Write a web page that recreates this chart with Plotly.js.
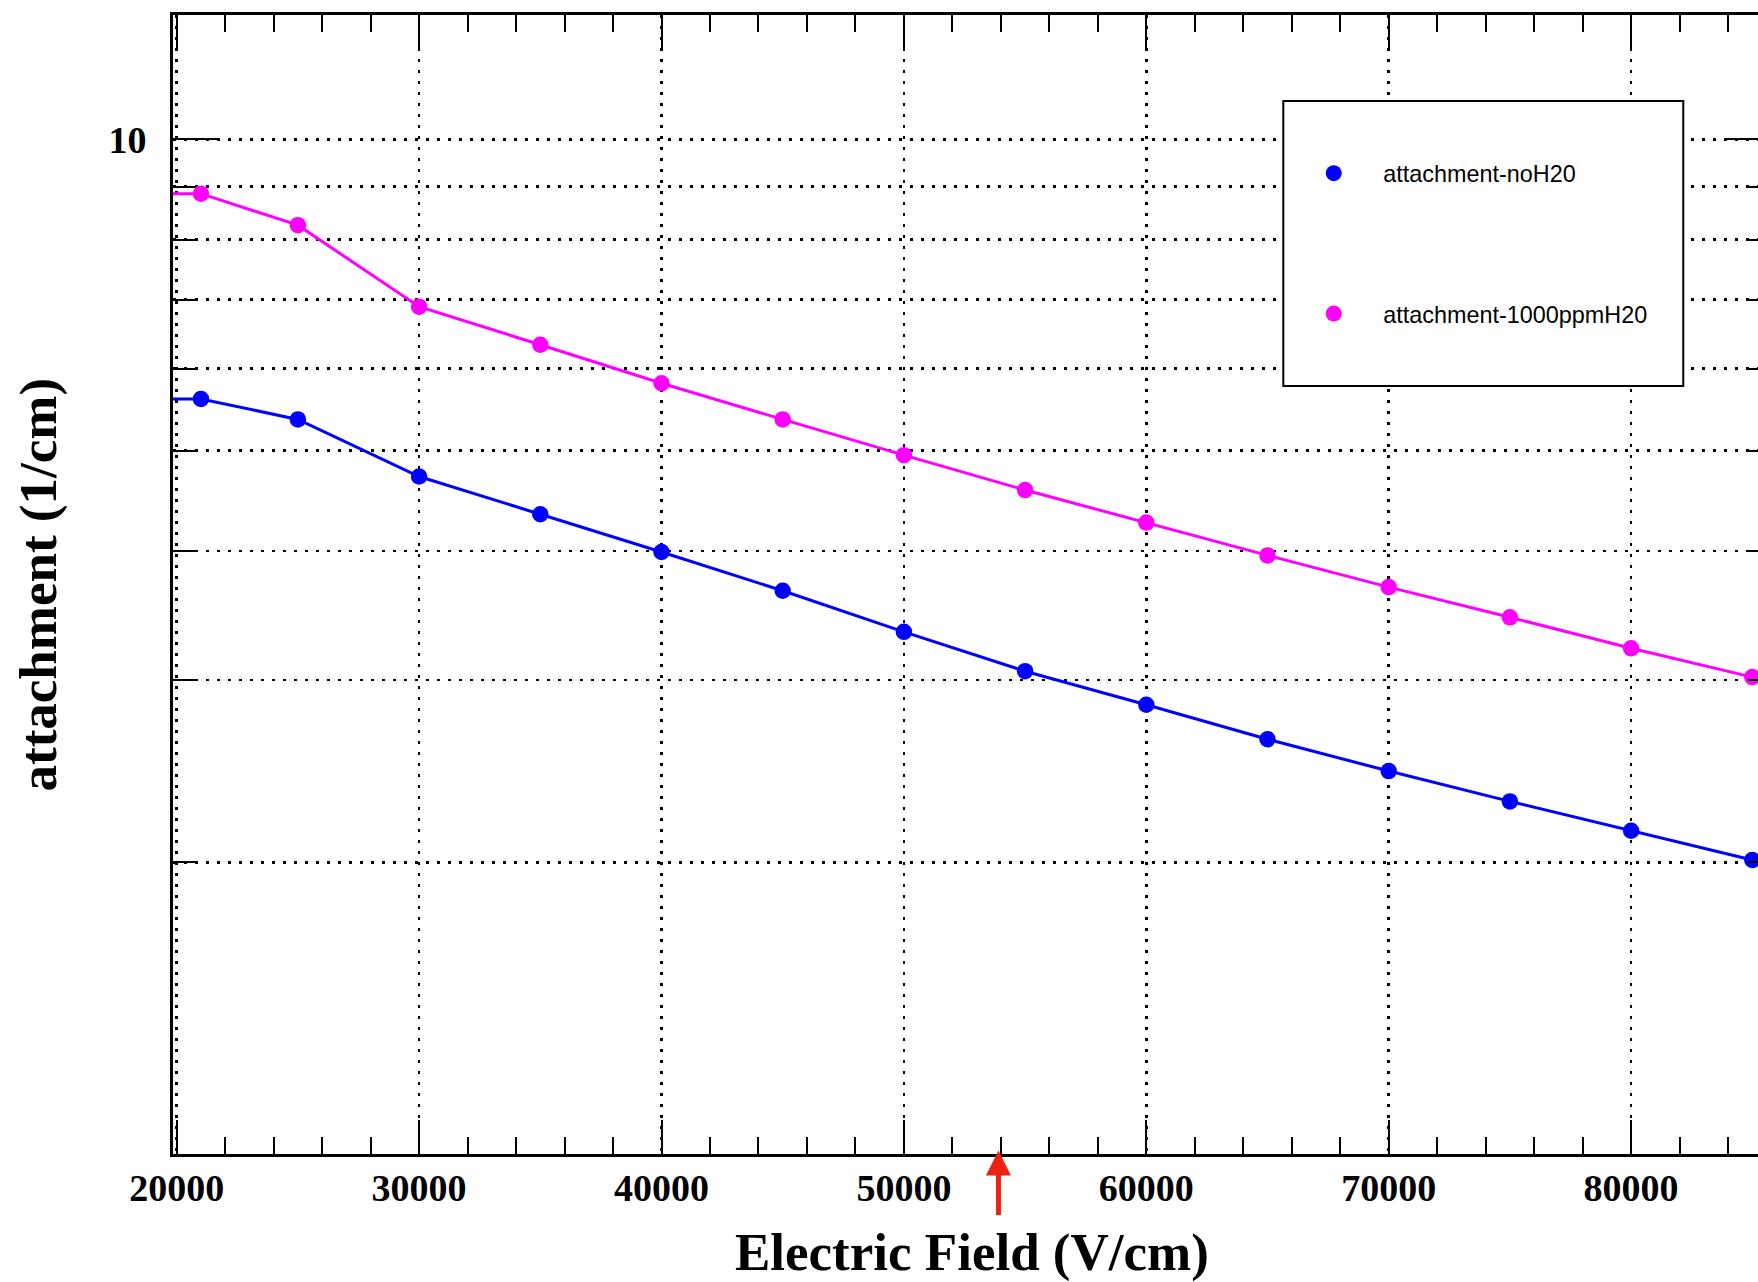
<!DOCTYPE html>
<html>
<head>
<meta charset="utf-8">
<script src="https://cdn.plot.ly/plotly-3.0.1.min.js"></script>
<style>
  html, body { margin: 0; padding: 0; background: #ffffff; overflow: hidden; }
  #plot { width: 1900px; height: 1282px; }
</style>
</head>
<body>
<div id="plot"></div>
<script>
// Electric field values (V/cm); the first entry sits left of the visible range
const field = [15000, 21000, 25000, 30000, 35000, 40000, 45000, 50000, 55000,
               60000, 65000, 70000, 75000, 80000, 85000];
// Attachment coefficient (1/cm), dry gas
const attachNoH2O = [5.61, 5.61, 5.36, 4.72, 4.34, 3.99, 3.66, 3.34, 3.06,
                     2.84, 2.63, 2.45, 2.29, 2.145, 2.01];
// Attachment coefficient (1/cm), 1000 ppm water
const attach1000ppm = [8.86, 8.86, 8.26, 6.89, 6.33, 5.81, 5.36, 4.95, 4.58,
                       4.26, 3.96, 3.69, 3.45, 3.22, 3.02];
const seriesNames = ['attachment-noH20', 'attachment-1000ppmH20'];
const seriesColors = ['#0000ff', '#ff00ff'];
// Operating field marked below the axis
const markedField = 53900;

const yTickVals = [10];
const yTickText = ['10'];
const yMinorVals = [2, 3, 4, 5, 6, 7, 8, 9];

const serif = 'Liberation Serif, Times New Roman, serif';
const sans = 'Liberation Sans, Arial, Helvetica, sans-serif';
const gridDash = '3px,8px';

const seriesY = [attachNoH2O, attach1000ppm];
const traces = [];
seriesY.forEach((ys, i) => {
  traces.push({
    x: field, y: ys, type: 'scatter', mode: 'lines',
    line: { color: seriesColors[i], width: 3 },
    showlegend: false, hoverinfo: 'skip'
  });
});
seriesY.forEach((ys, i) => {
  traces.push({
    x: field, y: ys, type: 'scatter', mode: 'markers',
    name: seriesNames[i], legendgroup: 'g' + i,
    marker: { color: seriesColors[i], size: 16.5, symbol: 'circle' },
    showlegend: true
  });
});

const layout = {
  width: 1900, height: 1282,
  margin: { l: 173, r: 129, t: 15, b: 128, pad: 0 },
  paper_bgcolor: '#ffffff', plot_bgcolor: '#ffffff',
  showlegend: true,
  xaxis: {
    type: 'linear', range: [19847, 85771],
    tickmode: 'linear', tick0: 0, dtick: 10000,
    ticks: 'inside', ticklen: 34, tickwidth: 2, tickcolor: '#000',
    showline: true, linewidth: 3, linecolor: '#000', mirror: 'allticks',
    showgrid: true, gridcolor: '#000', gridwidth: 2.7, griddash: gridDash,
    zeroline: false,
    tickfont: { family: serif, size: 38, color: '#000', weight: 'bold' },
    tickformat: 'd', ticklabelstandoff: -2,
    minor: { dtick: 2000, tick0: 0, ticks: 'inside', ticklen: 17, tickwidth: 2,
             tickcolor: '#000', showgrid: false }
  },
  yaxis: {
    type: 'log', range: [0.0189, 1.1202],
    tickmode: 'array', tickvals: yTickVals, ticktext: yTickText,
    ticks: 'inside', ticklen: 46, tickwidth: 2, tickcolor: '#000',
    showline: true, linewidth: 3, linecolor: '#000', mirror: 'allticks',
    showgrid: true, gridcolor: '#000', gridwidth: 2.7, griddash: gridDash,
    zeroline: false, ticklabelstandoff: 16,
    tickfont: { family: serif, size: 38, color: '#000', weight: 'bold' },
    minor: { tickmode: 'array', tickvals: yMinorVals, ticks: 'inside', ticklen: 23,
             tickwidth: 2, tickcolor: '#000', showgrid: true, gridcolor: '#000',
             gridwidth: 2.7, griddash: gridDash }
  },
  legend: {
    x: 0.6954, y: 0.8802, xanchor: 'left', yanchor: 'top',
    bgcolor: 'rgba(0,0,0,0)', borderwidth: 0,
    font: { family: sans, size: 23.4, color: '#000' },
    traceorder: 'grouped', tracegroupgap: 107, itemwidth: 89
  },
  shapes: [{
    type: 'rect', xref: 'paper', yref: 'paper', layer: 'above',
    x0: 0.6948, x1: 0.9451, y0: 0.6743, y1: 0.9245,
    line: { color: '#000', width: 2 }, fillcolor: '#ffffff'
  }],
  annotations: [
    {
      text: 'Electric Field (V/cm)', xref: 'paper', yref: 'paper',
      x: 0.5, y: 0, xanchor: 'center', yanchor: 'top', yshift: -67,
      showarrow: false,
      font: { family: serif, size: 53, color: '#000', weight: 'bold' }
    },
    {
      text: 'attachment (1/cm)', xref: 'paper', yref: 'paper',
      x: 0, y: 0.5, xanchor: 'center', yanchor: 'middle', xshift: -135,
      textangle: -90, showarrow: false,
      font: { family: serif, size: 53, color: '#000', weight: 'bold' }
    },
    {
      text: '', xref: 'x', yref: 'paper', x: markedField, y: 0.003,
      showarrow: true, ax: 0, ay: 66, axref: 'pixel', ayref: 'pixel',
      arrowhead: 2, arrowsize: 1, arrowwidth: 5, arrowcolor: '#ee2211',
      standoff: 0
    }
  ]
};

Plotly.newPlot('plot', traces, layout, { staticPlot: true, displayModeBar: false });
</script>
</body>
</html>
